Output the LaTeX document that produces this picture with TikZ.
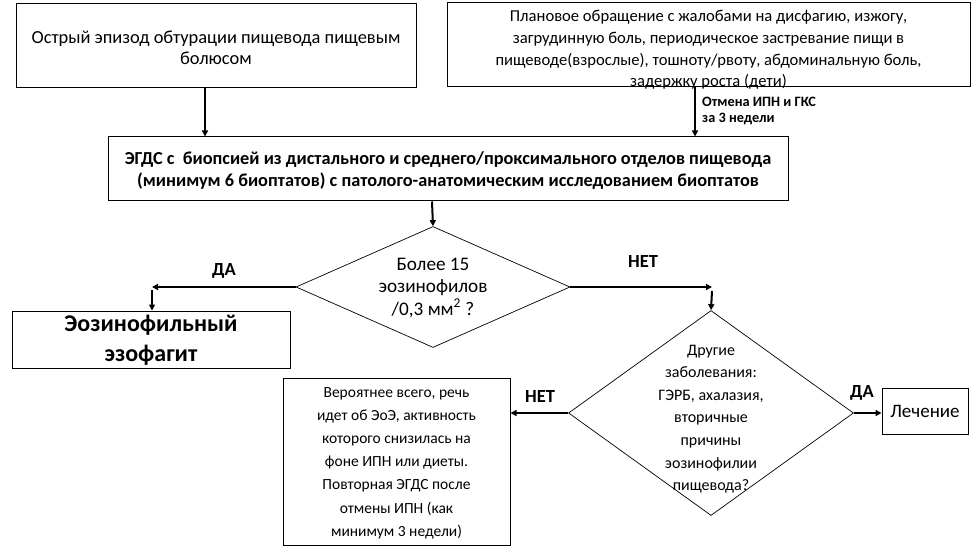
\documentclass[tikz,border=0pt]{standalone}
\usepackage{fontspec}
\setmainfont{Carlito}
\usetikzlibrary{arrows.meta,shapes.geometric}
\begin{document}
\begin{tikzpicture}[x=1pt,y=-1pt,
  box/.style={draw,line width=1pt,inner sep=0pt,align=center},
  dia/.style={draw,diamond,line width=0.7pt,inner sep=0pt},
  arr/.style={line width=2pt,-{Triangle[length=6pt,width=6pt]}},
  thickarr/.style={line width=2.6pt,-{Triangle[length=6pt,width=6pt]}},
  lbl/.style={font=\fontsize{18.5}{20}\selectfont\bfseries,inner sep=0pt},
  plain/.style={inner sep=0pt,align=center}]
\useasboundingbox (0,0) rectangle (974,548);
\fill[white] (0,0) rectangle (974,548);
% boxes
\node[box,minimum width=400pt,minimum height=84pt] (box1) at (216,46) {};
\node[plain,font=\fontsize{18.4}{21}\selectfont] (t1) at (216,48)
  {Острый эпизод обтурации пищевода пищевым\\болюсом};
\node[box,minimum width=523pt,minimum height=84pt] (box2) at (708.5,45) {};
\node[plain,font=\fontsize{16.6}{21.8}\selectfont] (t2) at (708.5,50)
  {Плановое обращение с жалобами на дисфагию, изжогу,\\загрудинную боль, периодическое застревание пищи в\\пищеводе(взрослые), тошноту/рвоту, абдоминальную боль,\\задержку роста (дети)};
\node[box,minimum width=680pt,minimum height=64pt] (box3) at (448,169) {};
\node[plain,font=\fontsize{18.3}{22}\selectfont\bfseries] (t3) at (448,171)
  {ЭГДС с\ \ биопсией из дистального и среднего/проксимального отделов пищевода\\(минимум 6 биоптатов) с патолого-анатомическим исследованием биоптатов};
\node[box,minimum width=278pt,minimum height=57pt] (box4) at (151,339.5) {};
\node[plain,font=\fontsize{24}{30}\selectfont\bfseries] (t4) at (151,340)
  {Эозинофильный\\эзофагит};
\node[box,minimum width=227pt,minimum height=167pt] (box5) at (396.5,461.5) {};
\node[plain,font=\fontsize{15.5}{23.2}\selectfont] (t5) at (396.5,463)
  {Вероятнее всего, речь\\идет об ЭоЭ, активность\\которого снизилась на\\фоне ИПН или диеты.\\Повторная ЭГДС после\\отмены ИПН (как\\минимум 3 недели)};
\node[box,minimum width=86pt,minimum height=46pt,font=\fontsize{19}{22}\selectfont] (box6) at (925,411) {Лечение};
% diamonds
\node[dia,minimum width=274pt,minimum height=121pt] (d1) at (433,287) {};
\node[plain,font=\fontsize{19.2}{22.5}\selectfont] (td1) at (433,288) {Более 15\\эозинофилов\\/0,3 мм\textsuperscript{2} ?};
\node[dia,minimum width=285pt,minimum height=205pt] (d2) at (711,413) {};
\node[plain,font=\fontsize{16}{22.6}\selectfont] (td2) at (711,419) {Другие\\заболевания:\\ГЭРБ, ахалазия,\\вторичные\\причины\\эозинофилии\\пищевода?};
% helper coordinates
\coordinate (a1) at (205,0);
\coordinate (a2) at (695,0);
\coordinate (a3) at (432,0);
\coordinate (cl) at (152,287);
\coordinate (cl2) at (152,290);
\coordinate (cr) at (712,287);
\coordinate (cr2) at (712,291);
% connectors
\draw[arr] (box1.south -| a1) -- (box3.north -| a1);
\draw[arr] (box2.south -| a2) -- (box3.north -| a2);
\draw[arr] (box3.south -| a3) -- (d1.north);
\draw[thickarr] (d1.west) -- (cl);
\draw[arr] (cl2) -- (box4.north -| cl2);
\draw[thickarr] (d1.east) -- (cr);
\draw[arr] (cr2) -- (d2.north);
\draw[thickarr] (d2.west) -- (box5.east |- d2.west);
\draw[thickarr] (d2.east) -- (box6.west |- d2.east);
% labels
\node[lbl] (l1) at (224,271) {ДА};
\node[lbl] (l2) at (643,262) {НЕТ};
\node[lbl] (l3) at (540,396) {НЕТ};
\node[lbl] (l4) at (862,393) {ДА};
\node[anchor=west,align=left,inner sep=0pt,font=\fontsize{14.3}{16}\selectfont\bfseries] (l5) at (702,111) {Отмена ИПН и ГКС\\за 3 недели};
\end{tikzpicture}
\end{document}
